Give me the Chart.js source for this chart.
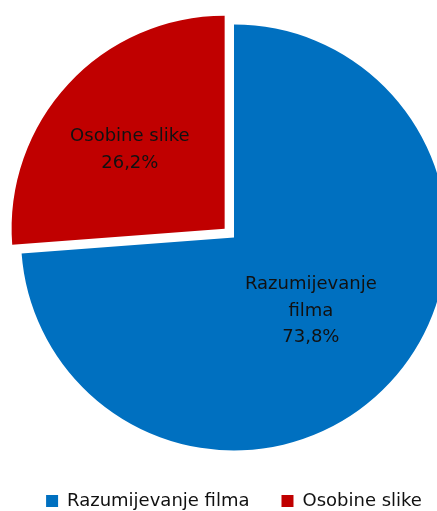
<!DOCTYPE html>
<html>
<head>
<meta charset="utf-8">
<script src="https://cdn.jsdelivr.net/npm/chart.js@4"></script>
<style>
    html, body { margin: 0; padding: 0; background: #fff; overflow: hidden; }
    #wrap { width: 437px; height: 511px; overflow: hidden; }
</style>
</head>
<body>
<div id="wrap"><canvas id="pie" width="468" height="520"></canvas></div>
<script>
const categories = ['Razumijevanje filma', 'Osobine slike'];
const sliceLabels = [['Razumijevanje', 'filma'], ['Osobine slike']];
const shares = [73.8, 26.2];
const colors = ['#0070C0', '#C00000'];

const FONT = '"DejaVu Sans", sans-serif';
// where each in-slice label sits: fraction of radius, and small turn (rad)
const labelRadius = [0.5, 0.58];
const labelTurn = [0.017, -0.052];

// draws category + percent inside each slice
const sliceLabelPlugin = {
    id: 'sliceLabels',
    afterDatasetsDraw(chart) {
        const ctx = chart.ctx;
        const meta = chart.getDatasetMeta(0);
        ctx.save();
        ctx.font = '18px ' + FONT;
        ctx.fillStyle = '#111';
        ctx.textAlign = 'center';
        ctx.textBaseline = 'middle';
        meta.data.forEach((arc, i) => {
            const mid = (arc.startAngle + arc.endAngle) / 2;
            const shift = (arc.options.offset || 0) / 4;
            const ox = arc.x + Math.cos(mid) * shift;
            const oy = arc.y + Math.sin(mid) * shift;
            const a = mid + labelTurn[i];
            const r = arc.outerRadius * labelRadius[i];
            const cx = ox + Math.cos(a) * r;
            const cy = oy + Math.sin(a) * r;
            const lines = sliceLabels[i].concat([shares[i].toFixed(1).replace('.', ',') + '%']);
            const lh = 26.5;
            const top = cy - (lines.length - 1) * lh / 2;
            lines.forEach((t, k) => ctx.fillText(t, cx, top + k * lh));
        });
        ctx.restore();
    }
};

new Chart(document.getElementById('pie'), {
    type: 'pie',
    data: {
        labels: categories,
        datasets: [{
            data: shares,
            backgroundColor: colors,
            borderWidth: 0,
            offset: [0, 51],
            clip: false
        }]
    },
    options: {
        responsive: false,
        animation: false,
        devicePixelRatio: 1,
        radius: 213,
        layout: { padding: { left: 0, right: 0, top: 15, bottom: 0 } },
        plugins: {
            legend: {
                position: 'bottom',
                labels: {
                    boxWidth: 12,
                    boxHeight: 12,
                    padding: 32,
                    color: '#111',
                    font: { family: FONT, size: 18 }
                }
            },
            tooltip: { enabled: false }
        }
    },
    plugins: [sliceLabelPlugin]
});
</script>
</body>
</html>
